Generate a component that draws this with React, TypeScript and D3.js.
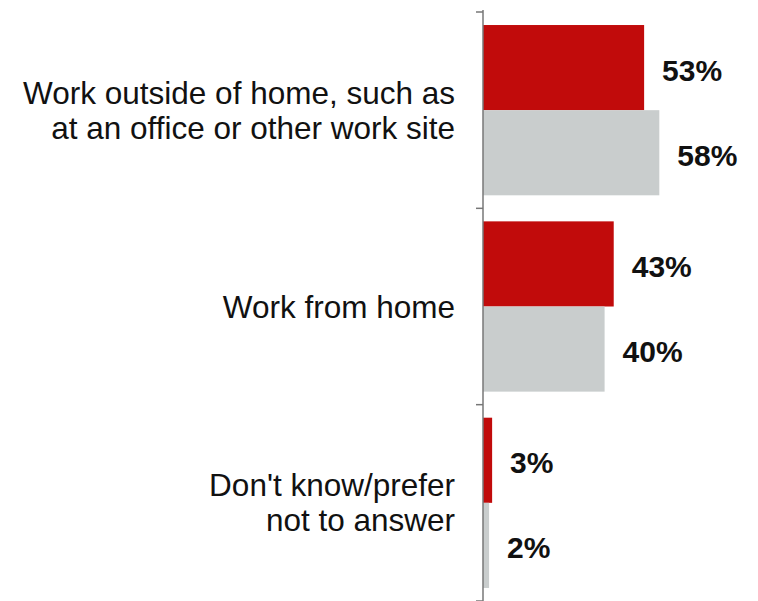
import React from "react";
import * as d3 from "d3";

const categories = [
  ["Work outside of home, such as", "at an office or other work site"],
  ["Work from home"],
  ["Don't know/prefer", "not to answer"],
];
const categoryKeys = ["outside", "home", "dk"];
const seriesKeys = ["current", "previous"];
const seriesColors = ["#c10b0b", "#c9cdcd"];
const currentValues = [53, 43, 3];
const previousValues = [58, 40, 2];

const W = 758;
const H = 601;
const axisX = 483;
const top = 12;
const bottom = 601;

export default function App() {
  const x = d3.scaleLinear().domain([0, 100]).range([axisX, axisX + 304]);
  const y0 = d3.scaleBand<string>().domain(categoryKeys).range([top, bottom]).paddingInner(0).paddingOuter(0);
  const y1 = d3
    .scaleBand<string>()
    .domain(seriesKeys)
    .range([0, y0.bandwidth()])
    .paddingInner(0)
    .paddingOuter(0.153);
  const series = [currentValues, previousValues];
  const ticks = [...categoryKeys.map((k) => y0(k) as number), bottom];
  const font = "'Liberation Sans', Arial, sans-serif";
  const lineH = 35;

  return (
    <svg
      width={W}
      height={H}
      style={{ position: "absolute", left: 0, top: 0, background: "#fff" }}
      fontFamily={font}
    >
      {categoryKeys.map((k, i) => {
        const g0 = y0(k) as number;
        return (
          <g key={k}>
            {seriesKeys.map((s, j) => {
              const v = series[j][i];
              const yy = g0 + (y1(s) as number);
              const bw = y1.bandwidth();
              return (
                <g key={s}>
                  <rect x={axisX} y={yy} width={x(v) - axisX} height={bw} fill={seriesColors[j]} />
                  <text
                    x={x(v) + 18}
                    y={yy + bw / 2 + 13}
                    fontSize={30}
                    fontWeight="bold"
                    fill="#111"
                  >
                    {v}%
                  </text>
                </g>
              );
            })}
            {(() => {
              const lines = categories[i];
              const c = g0 + y0.bandwidth() / 2;
              const first = c - ((lines.length - 1) * lineH) / 2 + 11;
              return lines.map((ln, li) => (
                <text key={li} x={455} y={first + li * lineH} textAnchor="end" fontSize={31.5} fill="#111">
                  {ln}
                </text>
              ));
            })()}
          </g>
        );
      })}
      <line x1={axisX} x2={axisX} y1={10} y2={bottom} stroke="#777" strokeWidth={1.5} />
      {ticks.map((t, i) => (
        <line key={i} x1={axisX - 7} x2={axisX} y1={t} y2={t} stroke="#777" strokeWidth={1.5} />
      ))}
    </svg>
  );
}
